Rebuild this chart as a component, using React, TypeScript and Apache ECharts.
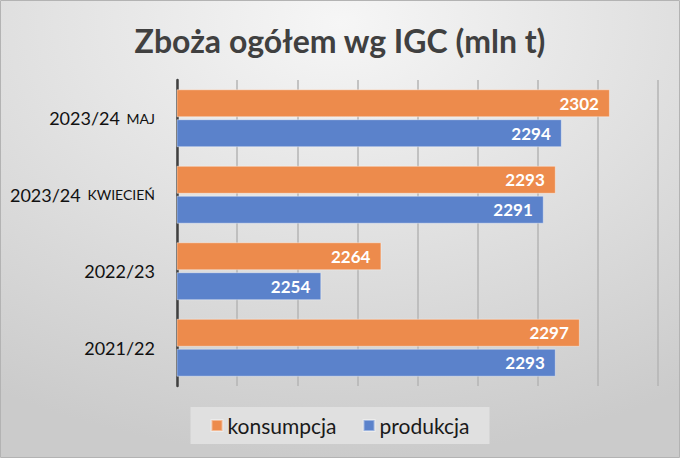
import React, { useEffect, useRef } from "react";
import * as echarts from "echarts";

const titleText = "Zboża ogółem wg IGC (mln t)";
const categories = ["2023/24|MAJ", "2023/24|KWIECIEŃ", "2022/23|", "2021/22|"];
const konsumpcja = [2302, 2293, 2264, 2297];
const produkcja = [2294, 2291, 2254, 2293];
const axisMin = 2230;
const axisMax = 2310;
const axisStep = 10;

export default function App() {
  const ref = useRef<HTMLDivElement>(null);
  useEffect(() => {
    document.body.style.margin = "0";
    const chart = echarts.init(ref.current!, null, { renderer: "svg" });
    const font = "Lato, 'Open Sans', sans-serif";
    const labelStyle = {
      show: true,
      position: "insideRight",
      distance: 11,
      fontFamily: font,
      fontSize: 17,
      fontWeight: "bold",
      color: "#fff",
    };
    chart.setOption({
      animation: false,
      graphic: [
        {
          type: "rect",
          z: -10,
          silent: true,
          shape: { x: 0.5, y: 0.5, width: 679, height: 457 },
          style: {
            fill: {
              type: "radial",
              x: 0.5,
              y: 0.05,
              r: 0.95,
              colorStops: [
                { offset: 0, color: "#f6f6f6" },
                { offset: 1, color: "#cbcbcb" },
              ],
            },
            stroke: "#b3b3b3",
            lineWidth: 1,
          },
        },
      ],
      title: {
        text: titleText,
        left: "center",
        top: 19,
        textStyle: { fontFamily: font, fontSize: 32, fontWeight: "bold", color: "#404040" },
      },
      legend: {
        left: "center",
        top: 407,
        data: ["konsumpcja", "produkcja"],
        icon: "rect",
        itemWidth: 11,
        itemHeight: 11,
        itemGap: 26,
        padding: [8, 20, 8, 20],
        backgroundColor: "#e0e0e0",
        textStyle: { fontFamily: font, fontSize: 21, color: "#1a1a1a" },
      },
      grid: { left: 177, right: 22, top: 80, bottom: 72 },
      xAxis: {
        type: "value",
        min: axisMin,
        max: axisMax,
        interval: axisStep,
        axisLabel: { show: false },
        axisLine: { show: false },
        axisTick: { show: false },
        splitLine: { show: true, lineStyle: { color: "#b4b4b4", width: 1.5 } },
      },
      yAxis: {
        type: "category",
        inverse: true,
        data: categories,
        axisTick: { show: false },
        axisLine: { show: true, lineStyle: { color: "#404040", width: 2.5 } },
        axisLabel: {
          margin: 22,
          formatter: (v: string) => {
            const [a, b] = v.split("|");
            return b ? `{a|${a}}  {b|${b}}` : `{a|${a}}`;
          },
          rich: {
            a: { fontFamily: font, fontSize: 18, color: "#111" },
            b: { fontFamily: font, fontSize: 14, color: "#111" },
          },
        },
      },
      series: [
        {
          name: "konsumpcja",
          type: "bar",
          data: konsumpcja,
          barWidth: 28,
          barGap: "7%",
          itemStyle: { color: "#ED8B4C", borderColor: "rgba(255,255,255,0.4)", borderWidth: 1 },
          label: labelStyle,
        },
        {
          name: "produkcja",
          type: "bar",
          data: produkcja,
          barWidth: 28,
          barGap: "7%",
          itemStyle: { color: "#5B82CB", borderColor: "rgba(255,255,255,0.4)", borderWidth: 1 },
          label: labelStyle,
        },
      ],
    });
    return () => chart.dispose();
  }, []);
  return <div ref={ref} style={{ width: 680, height: 458 }} />;
}
